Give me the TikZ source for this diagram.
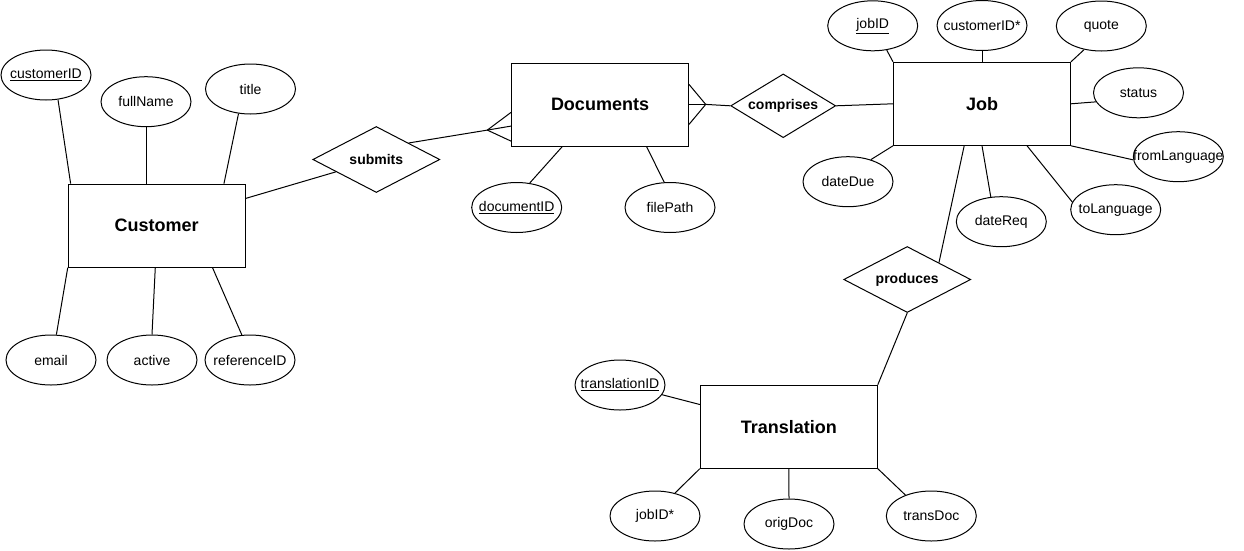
\documentclass[tikz,border=0pt]{standalone}
\usepackage{fontspec}
\setmainfont{Liberation Sans}
\usetikzlibrary{shapes.geometric,calc}

\begin{document}
\begin{tikzpicture}[x=.75pt, y=-.75pt, line width=.75pt,
  entity/.style={draw, rectangle, minimum width=132.75pt, minimum height=62.25pt,
    inner sep=0pt, font=\fontsize{13.5}{16}\selectfont\bfseries},
  attr/.style={draw, ellipse, minimum width=67.5pt, minimum height=37.5pt, inner sep=0pt,
    font=\fontsize{10.5}{12}\selectfont,
    execute at begin node=\hbox to 0pt\bgroup\hss, execute at end node=\hss\egroup},
  rel/.style={draw, diamond, minimum width=95.25pt, minimum height=49.5pt, inner sep=0pt,
    font=\fontsize{10.5}{12}\selectfont\bfseries,
    execute at begin node=\hbox to 0pt\bgroup\hss, execute at end node=\hss\egroup}
  ]
  \useasboundingbox (0,0) rectangle (1244,550);

  \node[entity] (cust) at (156.75,225.6) {Customer};
  \node[attr] (cid) at (46,75) {\underline{customerID}};
  \node[attr] (fname) at (146,101.7) {fullName};
  \node[attr] (title) at (250.5,89) {title};
  \node[attr] (email) at (51,360) {email};
  \node[attr] (active) at (152,360) {active};
  \node[attr] (refid) at (250,360) {referenceID};

  \node[rel] (sub) at (376.3,159.5) {submits};

  \node[entity] (docs) at (600,104.7) {Documents};
  \node[attr] (docid) at (516.7,207.5) {\underline{documentID}};
  \node[attr] (fpath) at (670,207.5) {filePath};

  \node[rel, minimum width=78.75pt, minimum height=47.8pt] (comp) at (783.2,105.8) {comprises};

  \node[entity] (job) at (982,103.8) {Job};
  \node[attr] (jobid) at (872.7,25.8) {\underline{jobID}};
  \node[attr] (custid) at (982,25.5) {customerID*};
  \node[attr] (quote) at (1101.3,26) {quote};
  \node[attr] (status) at (1138.5,92.8) {status};
  \node[attr] (froml) at (1178.3,156.7) {fromLanguage};
  \node[attr] (tol) at (1115.7,209.7) {toLanguage};
  \node[attr] (datereq) at (1001.3,221.7) {dateReq};
  \node[attr] (datedue) at (848,181.7) {dateDue};

  \node[rel] (prod) at (907.2,279.5) {produces};

  \node[entity] (trans) at (788.8,426.7) {Translation};
  \node[attr] (transid) at (620,385) {\underline{translationID}};
  \node[attr] (jobidf) at (655,516) {jobID*};
  \node[attr] (origdoc) at (789,524) {origDoc};
  \node[attr] (transdoc) at (931.3,516) {transDoc};

  \draw (cid.-64) -- (cust.154);
  \draw (fname.south) -- (fname |- cust.north);
  \draw (title.-116) -- (cust.32);
  \draw (email.78) -- (cust.south west);
  \draw (active.north) -- (cust.-92);
  \draw (refid.108) -- (cust.-37);

  \draw (cust.17) -- (sub.197);
  \coordinate (subfoot) at ($(docs.north west)+(-23.7,67.4)$);
  \draw (sub.27) -- (subfoot);
  \draw (subfoot) -- ($(docs.north west)+(0,49.7)$);
  \draw (subfoot) -- ($(docs.north west)+(0,63.4)$);
  \draw (subfoot) -- ($(docs.north west)+(0,78.4)$);

  \draw (docid.62) -- (docs.-132);
  \draw (fpath.103) -- (docs.-42);

  \coordinate (compfoot) at ($(docs.north east)+(16.7,41.7)$);
  \draw (comp.west) -- (compfoot);
  \draw (compfoot) -- ($(docs.north east)+(0,21.7)$);
  \draw (compfoot) -- ($(docs.north east)+(0,41.7)$);
  \draw (compfoot) -- ($(docs.north east)+(0,61.7)$);
  \draw (comp.east) -- (job.west);

  \draw (jobid.-60) -- (job.north west);
  \draw (custid.south) -- (job.north);
  \draw (quote.-126) -- (job.north east);
  \draw (status.192) -- (job.east);
  \draw (froml.184) -- (job.south east);
  \draw (tol.170) -- (job.-43);
  \draw (datereq.113) -- (job.south);
  \draw (datedue.44) -- (job.south west);

  \draw (job.-113) -- (prod.28);
  \draw (prod.south) -- (trans.north east);

  \draw (transid.-13.5) -- (trans.166);
  \draw (jobidf.49) -- (trans.south west);
  \draw (origdoc.north) -- (trans.south);
  \draw (transdoc.141) -- (trans.south east);
\end{tikzpicture}
\end{document}
